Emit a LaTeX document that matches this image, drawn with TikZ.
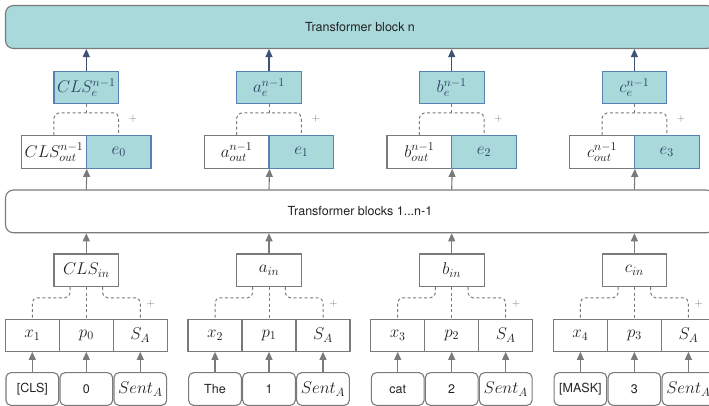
\RequirePackage{fix-cm}
\documentclass[tikz,border=0pt]{standalone}
\usepackage{fontspec}
\usepackage{amsmath}
\usetikzlibrary{arrows.meta}

\newfontfamily\blockfont{TeX Gyre Heros}
\definecolor{embfill}{HTML}{A9D9DA}
\definecolor{embdraw}{HTML}{5483B1}
\definecolor{embtext}{HTML}{2E4068}
\definecolor{arrowblue}{HTML}{3E5276}
\definecolor{linegray}{HTML}{7A7A7A}
\definecolor{textgray}{HTML}{222222}

\tikzset{
  bigblock/.style={draw=linegray, line width=1.1pt, rounded corners=8pt, inner sep=0pt,
    text=textgray, font=\blockfont\fontsize{12.5}{15}\selectfont},
  mathbox/.style={draw=linegray, line width=1.1pt, fill=white, inner sep=0pt, text=textgray,
    minimum width=64.7pt, minimum height=32.7pt, font=\fontsize{17}{20}\selectfont},
  embbox/.style={mathbox, draw=embdraw, fill=embfill, text=embtext},
  tokbox/.style={mathbox, minimum width=54pt, minimum height=32pt},
  wordbox/.style={draw=linegray, line width=1.1pt, rounded corners=5pt, inner sep=0pt,
    minimum width=52.7pt, minimum height=32.7pt, text=textgray,
    font=\blockfont\fontsize{12.5}{15}\selectfont},
  up/.style={-{Triangle[length=8pt,width=7pt]}, line width=1.1pt, draw=linegray},
  upemb/.style={up, draw=arrowblue},
  sumline/.style={draw=linegray, line width=1pt, dash pattern=on 3pt off 2.5pt, rounded corners=5pt},
  plus/.style={inner sep=0pt, text=linegray, font=\fontsize{11}{12}\selectfont}
}

\begin{document}
\begin{tikzpicture}[x=1pt, y=-1pt]
  \clip (0,0) rectangle (709,406);
  \node[bigblock, fill=embfill, minimum width=709pt, minimum height=43pt] (blockn) at (360,27) {Transformer block n};
  \node[bigblock, fill=white, minimum width=709pt, minimum height=42.7pt] (blocks) at (360,211.4) {Transformer blocks 1...n-1};
  \foreach \i/\v/\t/\w in {0/CLS/1/[CLS], 1/a/2/The, 2/b/3/cat, 3/c/4/[MASK]}{
    \pgfmathsetmacro\cx{86.3+182.7*\i}
    % upper part
    \node[embbox] (emb\i) at (\cx,87.5) {$\v_e^{n-1}$};
    \node[mathbox] (out\i) at (\cx-32.35,152) {$\v_{out}^{n-1}$};
    \node[embbox] (pe\i) at (\cx+32.35,152) {$e_\i$};
    \draw[sumline] (out\i.north) |- (\cx,113) -| (pe\i.north);
    \draw[sumline] (emb\i.south) -- (\cx,113);
    \node[plus] (plusout\i) at (\cx+46.7,119) {+};
    \draw[upemb] (emb\i) -- (emb\i |- blockn.south);
    \draw[up] (blocks.north -| emb\i) -- (out\i.south east);
    % lower part
    \node[mathbox] (in\i) at (\cx,270.3) {$\v_{in}$};
    \draw[up] (in\i) -- (in\i |- blocks.south);
    \node[tokbox] (tok\i) at (\cx-54,335.3) {$x_\t$};
    \node[tokbox] (pos\i) at (\cx,335.3) {$p_\i$};
    \node[tokbox] (seg\i) at (\cx+54,335.3) {$S_A$};
    \draw[sumline] ([xshift=-16.3pt]in\i.south) -- ++(0,10.6) -| (tok\i.north);
    \draw[sumline] (in\i.south) -- (pos\i.north);
    \draw[sumline] ([xshift=16.3pt]in\i.south) -- ++(0,10.6) -| (seg\i.north);
    \node[plus] (plusin\i) at (\cx+64.4,303.3) {+};
    \node[wordbox] (word\i) at (\cx-54,389) {\w};
    \node[wordbox] (wpos\i) at (\cx,389) {\i};
    \node[wordbox, font=\fontsize{17}{20}\selectfont] (wseg\i) at (\cx+54,389) {$Sent_A$};
    \draw[up] (word\i) -- (tok\i);
    \draw[up] (wpos\i) -- (pos\i);
    \draw[up] (wseg\i) -- (seg\i);
  }
\end{tikzpicture}
\end{document}
